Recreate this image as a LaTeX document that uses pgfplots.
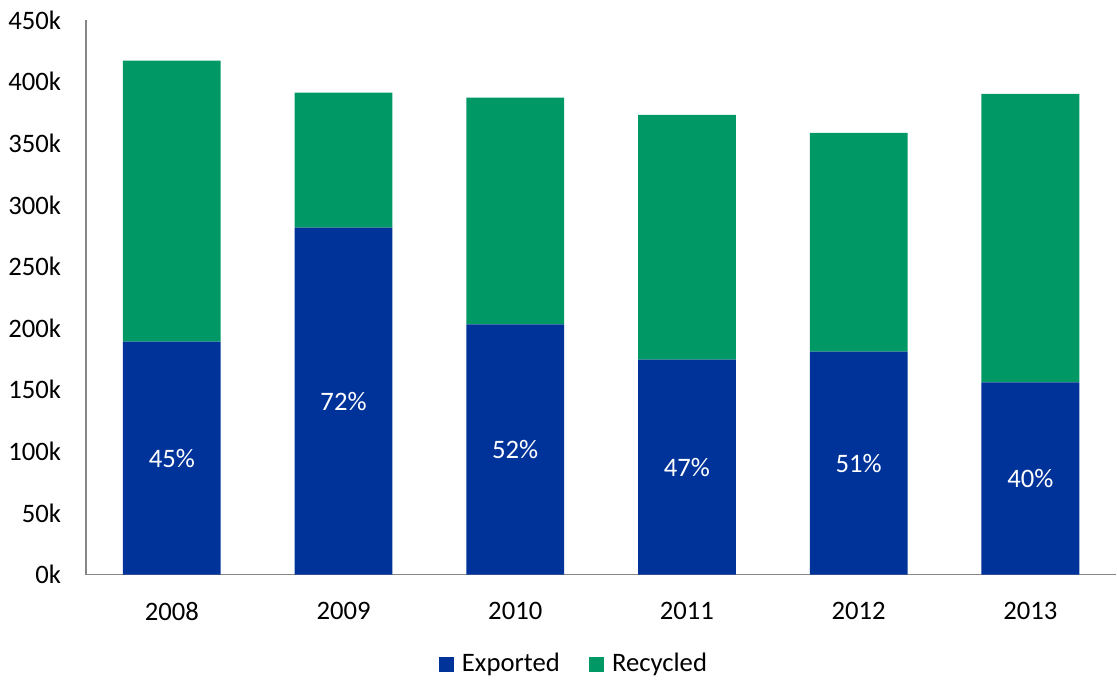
\documentclass[border=0pt]{standalone}
\usepackage{pgfplots}
\pgfplotsset{compat=1.18}
\usepackage{fontspec}
\setmainfont{Carlito}
\definecolor{expblue}{HTML}{003399}
\definecolor{recgreen}{HTML}{009966}
\definecolor{axgray}{HTML}{868686}
\pgfplotsset{
  base/.style={
    at={(0pt,0pt)}, anchor=south west,
    scale only axis,
    width=773.25pt, height=416.25pt,
    xmin=-0.5, xmax=5.5,
    ymin=0, ymax=450,
  }
}
\begin{document}
\fontsize{20}{24}\selectfont
\begin{tikzpicture}
\path (-64.5pt,-78pt) rectangle (773.25pt,431.25pt);
\begin{axis}[
  base,
  ybar stacked,
  bar width=0.57,
  xtick={0,1,2,3,4,5},
  xticklabels={2008,2009,2010,2011,2012,2013},
  ytick={0,50,...,450},
  yticklabel={\pgfmathprintnumber{\tick}k},
  /pgf/number format/assume math mode=true,
  major tick length=0pt,
  axis lines*=left,
  axis line style={axgray, line width=1.1pt},
  tick label style={font=\fontsize{20}{24}\selectfont, black},
  yticklabel style={anchor=east, inner sep=0pt, xshift=-18.5pt},
  xticklabel style={anchor=north, inner sep=0pt, yshift=-20.5pt},
  legend columns=2,
  legend style={draw=none, at={(0.474,-0.162)}, anchor=center,
    font=\fontsize{20}{24}\selectfont, column sep=4pt,
    /tikz/every even column/.append style={column sep=20pt}},
  legend image code/.code={\fill[#1] (0pt,-5.6pt) rectangle (11.25pt,5.6pt);},
]
\addplot[fill=expblue, draw=none] coordinates {
  (0,189) (1,281.5) (2,203) (3,174.5) (4,181) (5,156)
};
\addlegendentry{Exported}
\addplot[fill=recgreen, draw=none] coordinates {
  (0,228) (1,109.5) (2,184) (3,198.5) (4,177.5) (5,234)
};
\addlegendentry{Recycled}
\end{axis}
\begin{axis}[
  base,
  hide axis,
]
\addplot[draw=none, mark=none,
  point meta=explicit symbolic,
  nodes near coords,
  every node near coord/.style={white, anchor=center, inner sep=0pt,
    font=\fontsize{20}{24}\selectfont},
] coordinates {
  (0,94.5) [45\%]
  (1,140.75) [72\%]
  (2,101.5) [52\%]
  (3,87.25) [47\%]
  (4,90.5) [51\%]
  (5,78) [40\%]
};
\end{axis}
\end{tikzpicture}
\end{document}
